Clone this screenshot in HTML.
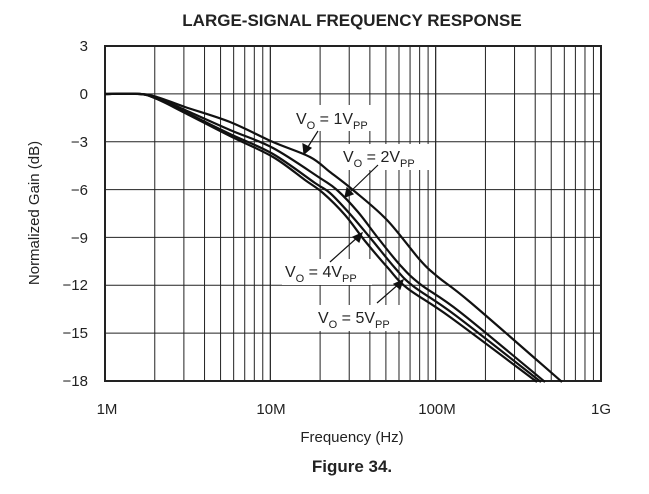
<!DOCTYPE html>
<html><head><style>
body{margin:0;background:#fff;}
svg text{font-family:"Liberation Sans",Arial,sans-serif;fill:#222;}
</style></head><body>
<svg width="649" height="489" viewBox="0 0 649 489" xmlns="http://www.w3.org/2000/svg">
<rect width="649" height="489" fill="#fff"/>
<text x="352" y="26" font-size="17" font-weight="bold" text-anchor="middle">LARGE-SIGNAL FREQUENCY RESPONSE</text>
<g id="grid"></g>
<rect x="105" y="46" width="496" height="335" fill="none" stroke="#222" stroke-width="2"/>
<g id="curves" fill="none" stroke="#111" stroke-width="2.2" stroke-linejoin="round">
<polyline points="105,94 140,94 157,97 185,107 230,122 273,142 310,157 330,172 353,190 387,220 420,260 438,277 470,302 562,382"/>
<polyline points="105,94 140,94 157,98 185,110 230,130 273,148 320,178 337,190 358,212 378,238 400,265 420,284 460,312 545,382"/>
<polyline points="105,94 140,94 157,99 185,112 230,134 273,154 315,183 330,193 350,214 372,240 395,268 413,286 455,315 541,382"/>
<polyline points="105,94 140,94 157,99 185,113 230,136 273,157 305,180 323,193 345,215 365,241 388,268 407,288 450,317 537,382"/>
</g>
<g font-size="16">
<rect x="293" y="105" width="92" height="26" fill="#fff"/>
<text x="296" y="124">V<tspan font-size="11" dy="5">O</tspan><tspan dy="-5"> = 1V</tspan><tspan font-size="11" dy="5">PP</tspan></text>
<rect x="340" y="144" width="92" height="26" fill="#fff"/>
<text x="343" y="162">V<tspan font-size="11" dy="5">O</tspan><tspan dy="-5"> = 2V</tspan><tspan font-size="11" dy="5">PP</tspan></text>
<rect x="282" y="259" width="90" height="26" fill="#fff"/>
<text x="285" y="277">V<tspan font-size="11" dy="5">O</tspan><tspan dy="-5"> = 4V</tspan><tspan font-size="11" dy="5">PP</tspan></text>
<rect x="315" y="305" width="90" height="26" fill="#fff"/>
<text x="318" y="323">V<tspan font-size="11" dy="5">O</tspan><tspan dy="-5"> = 5V</tspan><tspan font-size="11" dy="5">PP</tspan></text>
</g>
<g stroke="#111" stroke-width="1.2" fill="#111">
<line x1="318" y1="131" x2="306" y2="150"/><polygon points="304,154 303,144 311,148"/>
<line x1="378" y1="165" x2="348" y2="194"/><polygon points="345,197 347,188 353,194"/>
<line x1="330" y1="262" x2="359" y2="236"/><polygon points="362,233 359,242 353,237"/>
<line x1="377" y1="303" x2="400" y2="283"/><polygon points="403,280 400,289 394,284"/>
</g>
<g font-size="15" text-anchor="end">
<text x="88" y="51">3</text><text x="88" y="99">0</text><text x="88" y="147">−3</text><text x="88" y="195">−6</text>
<text x="88" y="243">−9</text><text x="88" y="290">−12</text><text x="88" y="338">−15</text><text x="88" y="386">−18</text>
</g>
<g font-size="15" text-anchor="middle">
<text x="107" y="414">1M</text><text x="271" y="414">10M</text><text x="437" y="414">100M</text><text x="601" y="414">1G</text>
<text x="352" y="442">Frequency (Hz)</text>
</g>
<text x="352" y="472" font-size="17" font-weight="bold" text-anchor="middle">Figure 34.</text>
<text transform="translate(39,213) rotate(-90)" font-size="15" text-anchor="middle">Normalized Gain (dB)</text>
</svg>
<script>
(function(){
var ns="http://www.w3.org/2000/svg",g=document.getElementById("grid");
var L=105,R=601,T=46,B=381,D=(R-L)/3;
g.setAttribute("stroke","#222");g.setAttribute("stroke-width","1");
for(var d=0;d<3;d++)for(var k=1;k<=10;k++){var x=L+D*(d+Math.log10(k));
var l=document.createElementNS(ns,"line");l.setAttribute("x1",x);l.setAttribute("x2",x);l.setAttribute("y1",T);l.setAttribute("y2",B);g.appendChild(l);}
for(var i=1;i<7;i++){var y=T+(B-T)*i/7;var l=document.createElementNS(ns,"line");l.setAttribute("x1",L);l.setAttribute("x2",R);l.setAttribute("y1",y);l.setAttribute("y2",y);g.appendChild(l);}
var pls=document.querySelectorAll("#curves polyline");
for(var j=0;j<pls.length;j++){var pl=pls[j];
var p=pl.getAttribute("points").trim().split(/\s+/).map(function(s){return s.split(",").map(Number);});
var dd="M"+p[0][0]+","+p[0][1];
for(var i=0;i<p.length-1;i++){var p0=p[i-1]||p[i],p1=p[i],p2=p[i+1],p3=p[i+2]||p2;
var c1x=p1[0]+(p2[0]-p0[0])/6,c1y=p1[1]+(p2[1]-p0[1])/6,c2x=p2[0]-(p3[0]-p1[0])/6,c2y=p2[1]-(p3[1]-p1[1])/6;
dd+=" C"+c1x+","+c1y+" "+c2x+","+c2y+" "+p2[0]+","+p2[1];}
var path=document.createElementNS(ns,"path");path.setAttribute("d",dd);pl.parentNode.replaceChild(path,pl);}
})();
</script>
</body></html>
